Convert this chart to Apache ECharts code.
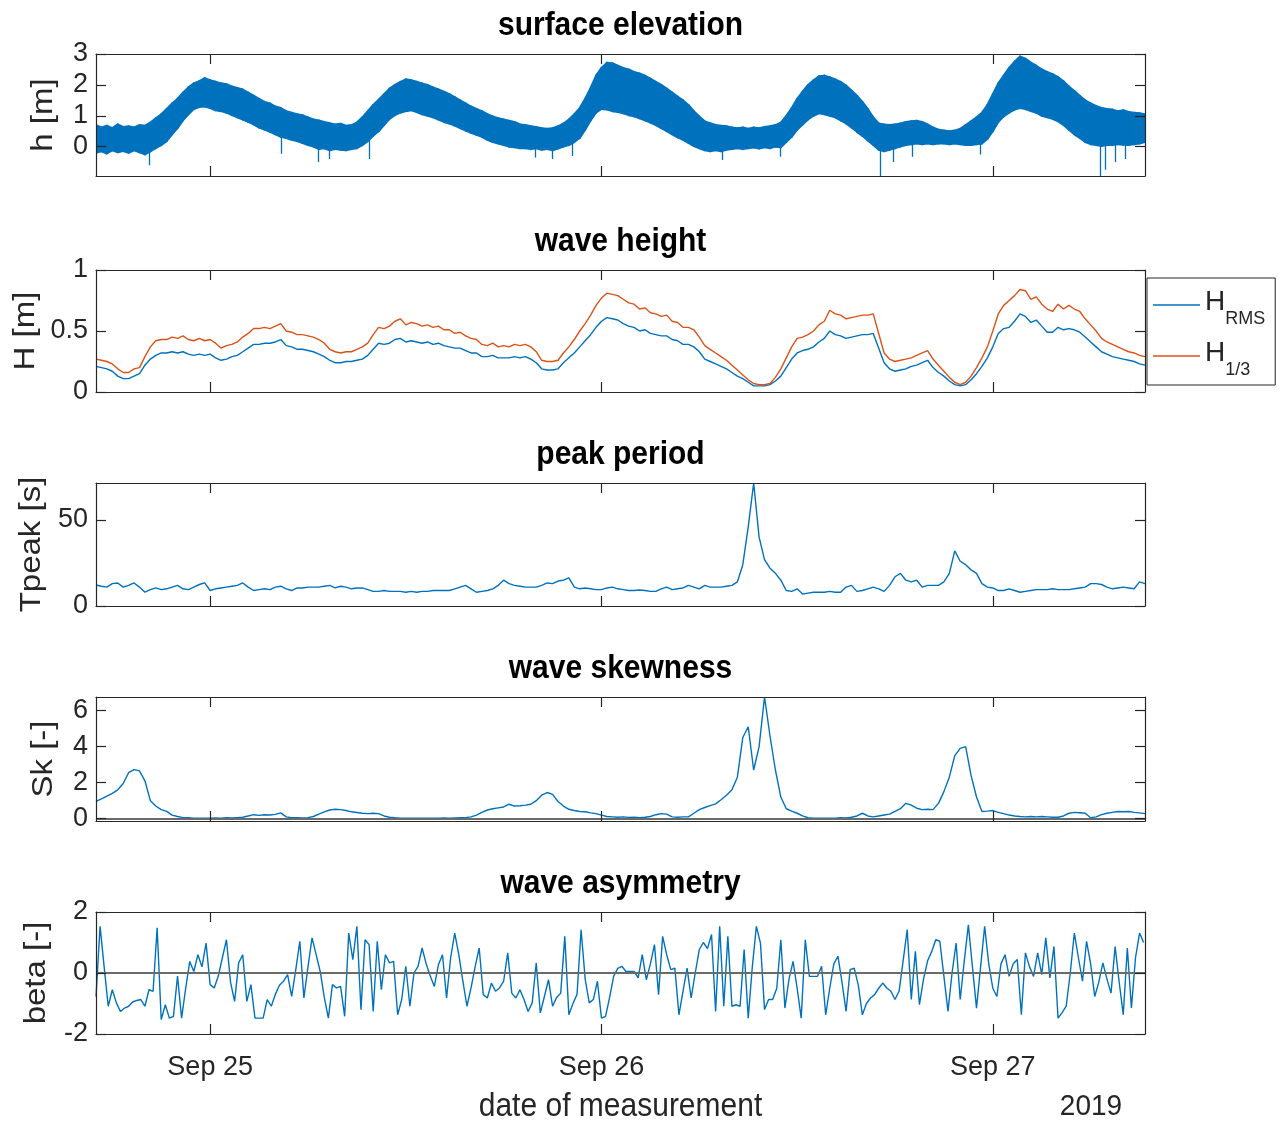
<!DOCTYPE html>
<html>
<head>
<meta charset="utf-8">
<title>Wave measurements, Sep 2019</title>
<script src="https://cdn.jsdelivr.net/npm/echarts@6/dist/echarts.min.js"></script>
<style>
  html, body { margin: 0; padding: 0; background: #ffffff; }
  #chart { width: 1284px; height: 1122px; }
</style>
</head>
<body>
<div id="chart"></div>
<script>
// ---------------------------------------------------------------------------
// Measurement record (local time). 20-minute series unless noted.
// ---------------------------------------------------------------------------
const seriesStart = '2019-09-24 17:00';
const axisEnd = '2019-09-27 09:20';
const stepMinutes = 20;
const betaStepMinutes = 15;

// surface elevation: upper / lower envelope of the raw signal per 20-min block [m]
const elevTop = [
  0.70,0.62,0.68,0.60,0.72,0.64,0.66,0.62,0.70,0.68,
  0.78,0.92,1.05,1.22,1.40,1.55,1.75,1.92,2.05,2.12,
  2.22,2.15,2.10,2.05,2.02,1.95,1.90,1.85,1.75,1.65,
  1.55,1.45,1.40,1.30,1.25,1.15,1.10,1.05,1.02,0.95,
  0.88,0.85,0.80,0.76,0.72,0.74,0.68,0.70,0.78,0.95,
  1.15,1.35,1.52,1.70,1.88,2.00,2.10,2.18,2.15,2.10,
  2.05,2.00,1.92,1.85,1.78,1.70,1.60,1.50,1.40,1.30,
  1.22,1.15,1.05,0.98,0.92,0.88,0.84,0.80,0.72,0.70,
  0.66,0.64,0.60,0.58,0.60,0.66,0.75,0.88,1.05,1.25,
  1.55,1.90,2.30,2.55,2.72,2.70,2.62,2.55,2.50,2.42,
  2.37,2.30,2.20,2.10,2.00,1.88,1.75,1.62,1.50,1.35,
  1.15,0.98,0.82,0.76,0.70,0.68,0.66,0.62,0.60,0.62,
  0.58,0.62,0.60,0.64,0.66,0.70,0.78,1.00,1.25,1.55,
  1.78,2.00,2.15,2.28,2.30,2.25,2.18,2.10,1.98,1.82,
  1.65,1.45,1.22,0.95,0.75,0.72,0.70,0.72,0.75,0.80,
  0.82,0.84,0.80,0.72,0.62,0.55,0.52,0.50,0.52,0.58,
  0.70,0.82,0.95,1.10,1.35,1.70,2.05,2.30,2.55,2.75,
  2.92,2.85,2.72,2.62,2.50,2.42,2.35,2.25,2.12,1.95,
  1.80,1.65,1.50,1.40,1.32,1.25,1.22,1.20,1.15,1.18,
  1.12,1.10,1.08,1.05
];
const elevBottom = [
  -0.20,-0.15,-0.22,-0.12,-0.18,-0.14,-0.20,-0.12,-0.18,-0.25,
  -0.15,-0.05,0.05,0.18,0.40,0.60,0.85,1.05,1.22,1.28,
  1.30,1.25,1.18,1.15,1.10,1.02,0.95,0.88,0.80,0.72,
  0.62,0.55,0.48,0.40,0.32,0.28,0.22,0.18,0.12,0.05,
  0.00,-0.08,-0.05,-0.12,-0.08,-0.10,-0.12,-0.08,-0.05,0.05,
  0.18,0.35,0.50,0.70,0.90,1.02,1.10,1.15,1.18,1.12,
  1.05,1.00,0.95,0.88,0.80,0.75,0.68,0.60,0.52,0.45,
  0.38,0.32,0.22,0.15,0.10,0.05,0.00,-0.02,-0.05,-0.05,
  -0.08,-0.05,-0.10,-0.08,-0.12,-0.06,0.00,0.05,0.15,0.28,
  0.55,0.85,1.10,1.22,1.20,1.15,1.12,1.08,1.02,0.98,
  0.92,0.85,0.78,0.70,0.60,0.50,0.40,0.30,0.22,0.12,
  0.02,-0.05,-0.12,-0.15,-0.12,-0.15,-0.10,-0.08,-0.05,-0.08,
  -0.05,-0.03,-0.06,-0.02,-0.05,0.00,-0.02,0.15,0.32,0.55,
  0.72,0.88,1.00,1.08,1.05,1.00,0.95,0.85,0.75,0.62,
  0.48,0.35,0.20,0.05,-0.10,-0.15,-0.10,-0.05,0.00,0.05,
  0.08,0.10,0.08,0.10,0.08,0.10,0.10,0.08,0.10,0.08,
  0.05,0.05,0.08,0.10,0.25,0.50,0.80,0.98,1.10,1.20,
  1.25,1.22,1.15,1.10,1.00,0.95,0.90,0.82,0.70,0.55,
  0.40,0.28,0.15,0.08,0.05,0.02,0.05,0.05,0.08,0.06,
  0.05,0.08,0.10,0.15
];
// isolated deep troughs in the raw signal
const elevSpikeTimes = [
  '2019-09-24 20:17','2019-09-25 04:23','2019-09-25 06:36','2019-09-25 07:20',
  '2019-09-25 09:47','2019-09-25 19:55','2019-09-25 20:58','2019-09-25 22:11',
  '2019-09-26 07:23','2019-09-26 10:57','2019-09-26 17:05','2019-09-26 17:53',
  '2019-09-26 19:04','2019-09-26 23:14','2019-09-27 06:36','2019-09-27 06:54',
  '2019-09-27 07:30','2019-09-27 08:08'
];
const elevSpikeMins = [
  -0.60,-0.23,-0.50,-0.40,-0.40,-0.35,-0.40,-0.30,
  -0.43,-0.33,-0.95,-0.50,-0.33,-0.25,-0.95,-0.75,-0.50,-0.40
];

// wave height [m]
const hRms = [
  0.21,0.20,0.19,0.17,0.13,0.11,0.11,0.13,0.15,0.22,
  0.27,0.30,0.32,0.32,0.33,0.32,0.33,0.31,0.30,0.31,
  0.30,0.31,0.28,0.26,0.27,0.29,0.30,0.33,0.36,0.39,
  0.39,0.40,0.40,0.41,0.43,0.38,0.37,0.35,0.35,0.34,
  0.33,0.31,0.29,0.26,0.24,0.24,0.25,0.25,0.26,0.27,
  0.30,0.35,0.40,0.39,0.40,0.43,0.44,0.41,0.42,0.41,
  0.40,0.41,0.39,0.40,0.38,0.37,0.36,0.36,0.34,0.32,
  0.32,0.29,0.29,0.30,0.28,0.28,0.28,0.29,0.28,0.29,
  0.27,0.24,0.19,0.18,0.18,0.19,0.24,0.28,0.32,0.37,
  0.42,0.47,0.53,0.58,0.61,0.60,0.59,0.56,0.54,0.53,
  0.50,0.51,0.48,0.47,0.46,0.46,0.43,0.42,0.39,0.39,
  0.37,0.33,0.27,0.25,0.23,0.21,0.19,0.16,0.13,0.11,
  0.08,0.05,0.05,0.05,0.06,0.09,0.13,0.20,0.27,0.32,
  0.34,0.35,0.37,0.41,0.44,0.50,0.47,0.46,0.44,0.45,
  0.46,0.47,0.47,0.48,0.36,0.24,0.19,0.17,0.18,0.19,
  0.21,0.22,0.24,0.26,0.20,0.16,0.13,0.09,0.06,0.05,
  0.06,0.10,0.15,0.21,0.28,0.37,0.48,0.52,0.53,0.58,
  0.64,0.62,0.57,0.59,0.54,0.49,0.49,0.53,0.51,0.52,
  0.51,0.49,0.45,0.41,0.37,0.33,0.31,0.29,0.28,0.27,
  0.26,0.25,0.23,0.22
];
const hThird = [
  0.27,0.26,0.25,0.23,0.19,0.16,0.16,0.19,0.20,0.29,
  0.37,0.42,0.43,0.43,0.45,0.44,0.46,0.43,0.42,0.44,
  0.42,0.43,0.40,0.36,0.38,0.39,0.41,0.45,0.48,0.52,
  0.52,0.53,0.52,0.54,0.56,0.50,0.49,0.47,0.47,0.46,
  0.45,0.43,0.40,0.35,0.33,0.32,0.33,0.33,0.35,0.37,
  0.40,0.47,0.53,0.52,0.54,0.58,0.60,0.55,0.57,0.56,
  0.54,0.55,0.53,0.54,0.51,0.51,0.48,0.49,0.46,0.44,
  0.43,0.39,0.38,0.40,0.37,0.38,0.37,0.39,0.38,0.39,
  0.37,0.33,0.26,0.25,0.25,0.26,0.32,0.37,0.43,0.50,
  0.56,0.63,0.71,0.77,0.81,0.80,0.79,0.76,0.73,0.72,
  0.68,0.69,0.65,0.64,0.62,0.63,0.58,0.57,0.53,0.53,
  0.51,0.45,0.38,0.35,0.32,0.29,0.26,0.22,0.18,0.14,
  0.10,0.07,0.06,0.06,0.07,0.12,0.19,0.28,0.37,0.44,
  0.45,0.47,0.50,0.55,0.58,0.67,0.64,0.63,0.60,0.61,
  0.62,0.63,0.63,0.64,0.48,0.32,0.27,0.25,0.26,0.27,
  0.28,0.30,0.32,0.34,0.27,0.22,0.17,0.12,0.08,0.06,
  0.08,0.13,0.20,0.28,0.37,0.50,0.64,0.71,0.75,0.79,
  0.84,0.83,0.76,0.78,0.72,0.68,0.66,0.72,0.68,0.71,
  0.68,0.66,0.60,0.55,0.50,0.44,0.41,0.39,0.37,0.35,
  0.33,0.32,0.30,0.29
];

// peak period [s]
const tPeak = [
  12.2,11.5,11,13,13.4,11,12,13.4,11,8,
  9.5,10.5,9.5,10,11,12,10,9.5,11,12.5,
  13.4,9,10,10.5,11,11.5,12,13.4,11,9,
  9.5,10,9.5,11,11.5,10,9,10.5,10.5,11,
  11,11,11.5,12,10.5,11.5,11,10,10.5,10.5,
  9.5,8.5,8.5,9,8.5,8.5,8.5,8,8.5,8,
  8.5,8.5,9,9,9,9,10,11,12,10,
  8,8.5,9,10,12,15,13,12,11.5,11,
  11,11,12,13.4,13,14.5,15,16.3,11,10,
  10.5,10,9.5,9.5,10.5,11,10,9.5,9,9,
  9.3,9,8.5,8.5,10,11,9.5,10,10.5,12,
  11,10,12,11,11,11,11.5,12,14,24,
  46,71.5,40,27,22,19,15,9,8.5,10,
  7,7.5,8,8,8,8.5,8,8,11,12,
  8.5,9,10,11,10,8.5,12,17,19,15,
  14,15,11,12,12,12,14,19,32,26,
  24,21,19,13,11,10.5,9,9,10,9,
  8,8.5,9,9.5,9.5,9.5,10,9.5,9.5,9.5,
  10,10.5,11,13,13,12.5,11,10,10.5,11,
  10.5,10,14,13
];

// wave skewness [-]
const skewness = [
  0.96,1.1,1.25,1.4,1.6,1.95,2.55,2.72,2.65,2.1,
  1.0,0.7,0.5,0.4,0.2,0.12,0.06,0.05,0.03,0.02,
  0.03,0.02,0.04,0.03,0.05,0.04,0.06,0.08,0.15,0.22,
  0.18,0.22,0.2,0.24,0.32,0.1,0.05,0.06,0.04,0.06,
  0.12,0.25,0.38,0.48,0.52,0.5,0.45,0.38,0.34,0.3,
  0.28,0.3,0.28,0.15,0.08,0.05,0.03,0.02,0.03,0.02,
  0.02,0.03,0.02,0.03,0.04,0.03,0.04,0.05,0.06,0.1,
  0.2,0.35,0.48,0.55,0.6,0.65,0.8,0.7,0.72,0.75,
  0.8,1.0,1.3,1.45,1.35,0.95,0.7,0.52,0.45,0.4,
  0.38,0.32,0.28,0.2,0.12,0.1,0.08,0.1,0.07,0.08,
  0.06,0.08,0.12,0.22,0.28,0.25,0.1,0.08,0.1,0.1,
  0.3,0.5,0.62,0.72,0.82,1.05,1.3,1.6,2.3,4.5,
  5.1,2.7,4.0,6.75,4.6,2.7,1.2,0.55,0.42,0.3,
  0.15,0.05,0.03,0.02,0.03,0.02,0.03,0.05,0.04,0.08,
  0.15,0.3,0.15,0.1,0.15,0.2,0.25,0.4,0.55,0.85,
  0.75,0.58,0.5,0.52,0.5,0.85,1.5,2.3,3.5,3.9,
  4.0,2.4,1.2,0.4,0.42,0.45,0.35,0.28,0.2,0.15,
  0.12,0.1,0.12,0.1,0.12,0.1,0.08,0.08,0.15,0.3,
  0.35,0.33,0.3,0.05,0.1,0.22,0.3,0.35,0.4,0.38,
  0.4,0.35,0.32,0.28
];

// wave asymmetry [-], 15-minute blocks
const beta = [
  -0.77,1.53,0.2,-1.09,-0.55,-0.98,-1.26,-1.15,-1.09,-0.95,
  -0.9,-0.87,-1.09,-0.55,-0.6,1.48,-1.53,-1.04,-1.48,-1.42,
  -0.1,-1.48,-0.5,0.38,0.05,0.6,0.2,0.98,-0.38,-0.49,
  -0.1,0.5,1.09,-0.3,-0.93,0.33,0.6,-0.93,-0.38,-1.48,
  -1.48,-1.48,-0.87,-1.09,-0.7,-0.4,-0.27,-0.05,-0.77,0.1,
  1.04,-0.82,0.2,1.15,0.6,0.05,-0.8,-1.48,-0.38,-0.49,
  -0.44,-1.42,1.31,0.44,1.53,-1.2,1.09,0.93,-1.26,1.04,
  -0.55,0.6,0.33,0.38,-1.37,-0.87,0.22,-1.09,0.0,0.22,
  0.82,0.3,-0.1,-0.44,0.27,0.6,-0.82,0.5,1.31,0.6,
  -0.27,-1.09,-0.49,0.2,0.82,-0.71,-0.82,-0.33,-0.6,-0.49,
  -0.27,0.66,-0.66,-0.82,-0.55,-0.87,-1.26,-0.98,0.33,-1.31,
  -0.77,-0.22,-1.09,-0.8,-0.66,1.2,-1.37,-1.0,-0.7,1.42,
  -0.2,-0.98,-0.87,-0.27,-1.48,-1.42,-0.8,-0.1,0.15,0.22,
  0.05,0.05,0.05,-0.16,0.6,-0.22,0.3,0.93,-0.71,1.2,
  0.6,0.11,0.16,-1.37,-0.6,0.16,-0.82,0.0,0.77,1.0,
  0.8,1.26,-1.26,1.53,-1.09,1.2,-1.09,-1.04,-1.09,0.77,
  -1.48,0.2,1.53,0.98,-1.2,-0.87,-0.87,-0.5,1.09,-1.15,
  -0.2,0.38,-0.5,-1.48,1.09,-0.11,-0.11,-0.11,0.22,-1.37,
  -0.5,0.3,0.55,-0.3,-1.26,0.11,0.16,-0.4,-1.37,-1.0,
  -0.82,-0.71,-0.5,-0.33,-0.49,-0.6,-0.87,-0.6,0.4,1.42,
  -0.87,0.71,-1.04,-0.2,0.4,0.7,1.09,1.04,-0.1,-1.26,
  0.0,0.98,-0.87,0.4,1.58,0.2,-1.15,0.2,1.53,0.3,
  -0.5,-0.77,0.3,0.6,-0.11,0.3,0.44,-1.37,0.66,0.2,
  -0.11,0.66,-0.05,1.15,-0.16,0.87,-1.48,-1.3,-1.09,0.0,
  1.31,0.5,-0.27,1.04,0.3,-0.77,-0.3,0.33,-0.2,-0.66,
  0.87,-0.3,-1.37,0.82,-1.15,0.5,1.31,1.0
];

// tick labels
const dayTicks = ['2019-09-25 00:00', '2019-09-26 00:00', '2019-09-27 00:00'];
const dayTickLabels = ['Sep 25', 'Sep 26', 'Sep 27'];
const elevTicks = [0, 1, 2, 3];
const heightTicks = [0, 0.5, 1];
const periodTicks = [0, 50];
const skewTicks = [0, 2, 4, 6];
const betaTicks = [-2, 0, 2];

const panelTitles = ['surface elevation', 'wave height', 'peak period', 'wave skewness', 'wave asymmetry'];
const panelYNames = ['h [m]', 'H [m]', 'Tpeak [s]', 'Sk [-]', 'beta [-]'];
const legendNames = ['H_RMS', 'H_1/3'];
const xAxisTitle = 'date of measurement';
const yearText = '2019';

// ---------------------------------------------------------------------------
// Layout & styling
// ---------------------------------------------------------------------------
const FONT = "'Liberation Sans', Arial, Helvetica, sans-serif";
const INK = '#262626';
const BLUE = '#0072BD';
const ORANGE = '#D95319';
const ZERO_LINE = '#6a6a6a';
const TICK_FONT = 27;
const LABEL_FONT = 30;

const PLOT_LEFT = 96, PLOT_RIGHT_GAP = 139;
const panels = [
  { top: 54,  height: 122, min: -0.95, max: 3,    ticks: elevTicks,   nameX: 44 },
  { top: 270, height: 122, min: 0,     max: 1,    ticks: heightTicks, nameX: 26 },
  { top: 483, height: 123, min: 0,     max: 71.5, ticks: periodTicks, nameX: 32 },
  { top: 697, height: 124, min: -0.13, max: 6.75, ticks: skewTicks,   nameX: 44 },
  { top: 912, height: 122, min: -2,    max: 2,    ticks: betaTicks,   nameX: 37 }
];

function parseStamp(s) {
  const [d, t] = s.split(' ');
  const [Y, M, D] = d.split('-').map(Number);
  const [h, m] = t.split(':').map(Number);
  return new Date(Y, M - 1, D, h, m).getTime();
}
const t0 = parseStamp(seriesStart);
const t1 = parseStamp(axisEnd);
const stampAt = (i, step) => t0 + i * step * 60000;
const toPairs = (arr, step) => arr.map((v, i) => [stampAt(i, step), v]);
const dayStamps = dayTicks.map(parseStamp);

const axisLineStyle = { color: INK, width: 1.2 };

// time runs on a numeric axis (milliseconds) so the tick positions can be given explicitly
function makeXAxes(gi, withLabels) {
  const base = {
    type: 'value', gridIndex: gi, min: t0, max: t1, scale: true, z: 5,
    axisLine: { show: true, onZero: false, lineStyle: axisLineStyle },
    axisTick: { show: true, inside: true, length: 10, customValues: dayStamps, lineStyle: axisLineStyle },
    splitLine: { show: false },
    minorTick: { show: false },
    axisPointer: { show: false }
  };
  const bottom = Object.assign({}, base, {
    position: 'bottom',
    axisLabel: withLabels ? {
      show: true, customValues: dayStamps, margin: 20,
      fontFamily: FONT, fontSize: TICK_FONT, color: INK,
      formatter: (v) => {
        const k = dayStamps.findIndex(s => Math.abs(s - v) < 1000);
        return k >= 0 ? dayTickLabels[k] : '';
      }
    } : { show: false }
  });
  const top = Object.assign({}, base, { position: 'top', axisLabel: { show: false } });
  return [bottom, top];
}

function makeYAxes(gi, p) {
  const base = {
    type: 'value', gridIndex: gi, min: p.min, max: p.max, scale: true, z: 5,
    axisLine: { show: true, onZero: false, lineStyle: axisLineStyle },
    axisTick: { show: true, inside: true, length: 10, customValues: p.ticks, lineStyle: axisLineStyle },
    splitLine: { show: false },
    minorTick: { show: false }
  };
  const left = Object.assign({}, base, {
    position: 'left',
    axisLabel: { show: true, customValues: p.ticks, margin: 8, padding: [4, 0, 0, 0],
                 fontFamily: FONT, fontSize: TICK_FONT, color: INK }
  });
  const right = Object.assign({}, base, { position: 'right', axisLabel: { show: false } });
  return [left, right];
}

const grid = [], xAxis = [], yAxis = [];
panels.forEach((p, gi) => {
  grid.push({ left: PLOT_LEFT, right: PLOT_RIGHT_GAP, top: p.top, height: p.height, containLabel: false });
  xAxis.push(...makeXAxes(gi, gi === panels.length - 1));
  yAxis.push(...makeYAxes(gi, p));
});
// primary axes of panel k sit at index 2k
const ax = (k) => ({ xAxisIndex: 2 * k, yAxisIndex: 2 * k });

const plainLine = (extra) => Object.assign({
  type: 'line', symbol: 'none', showSymbol: false, silent: true,
  emphasis: { disabled: true }, animation: false, clip: true
}, extra);

const zeroMark = {
  silent: true, symbol: 'none', label: { show: false }, animation: false,
  lineStyle: { color: ZERO_LINE, width: 2.2, type: 'solid' },
  data: [{ yAxis: 0 }]
};

// elevation band: one quad per block, from this block's envelope to the next one's
const bandBlocks = elevTop.slice(0, -1).map((v, i) => [
  stampAt(i, stepMinutes), elevBottom[i], elevTop[i],
  stampAt(i + 1, stepMinutes), elevBottom[i + 1], elevTop[i + 1]
]);
const spikeSegments = elevSpikeTimes.map((s, k) => {
  const t = parseStamp(s);
  const i = Math.min(elevBottom.length - 1, Math.max(0, Math.round((t - t0) / (stepMinutes * 60000))));
  return { coords: [[t, elevBottom[i] + 0.1], [t, elevSpikeMins[k]]] };
});

const series = [
  Object.assign({
    type: 'custom', name: 'surface elevation', silent: true, animation: false, clip: true,
    data: bandBlocks,
    encode: { x: [0, 3], y: [1, 2, 4, 5] },
    renderItem: (params, api) => {
      const a = api.coord([api.value(0), api.value(2)]);
      const b = api.coord([api.value(3), api.value(5)]);
      const c = api.coord([api.value(3), api.value(4)]);
      const d = api.coord([api.value(0), api.value(1)]);
      return {
        type: 'polygon',
        shape: { points: [a, b, c, d] },
        style: { fill: BLUE, stroke: BLUE, lineWidth: 2, lineJoin: 'round' }
      };
    }
  }, ax(0)),
  Object.assign({
    type: 'lines', coordinateSystem: 'cartesian2d', silent: true, animation: false,
    polyline: false, symbol: 'none',
    lineStyle: { color: BLUE, width: 1.3, opacity: 1 },
    data: spikeSegments
  }, ax(0)),
  plainLine(Object.assign({
    name: legendNames[0], data: toPairs(hRms, stepMinutes),
    lineStyle: { color: BLUE, width: 1.4 }, itemStyle: { color: BLUE }
  }, ax(1))),
  plainLine(Object.assign({
    name: legendNames[1], data: toPairs(hThird, stepMinutes),
    lineStyle: { color: ORANGE, width: 1.4 }, itemStyle: { color: ORANGE }
  }, ax(1))),
  plainLine(Object.assign({
    name: 'Tpeak', data: toPairs(tPeak, stepMinutes),
    lineStyle: { color: BLUE, width: 1.4 }
  }, ax(2))),
  plainLine(Object.assign({
    name: 'Sk', data: toPairs(skewness, stepMinutes),
    lineStyle: { color: BLUE, width: 1.4 },
    markLine: zeroMark
  }, ax(3))),
  plainLine(Object.assign({
    name: 'beta', data: toPairs(beta, betaStepMinutes),
    lineStyle: { color: BLUE, width: 1.4 },
    markLine: zeroMark
  }, ax(4)))
];

// titles, axis names and the shared x label
const graphic = [];
const plotCenterX = PLOT_LEFT + (1284 - PLOT_LEFT - PLOT_RIGHT_GAP) / 2;
panels.forEach((p, k) => {
  graphic.push({
    type: 'text', x: plotCenterX, y: p.top - 28, silent: true, scaleY: 1.08,
    style: { text: panelTitles[k], fontFamily: FONT, fontSize: LABEL_FONT, fontWeight: 'bold',
             fill: '#000000', align: 'center', verticalAlign: 'middle' }
  });
  graphic.push({
    type: 'text', x: p.nameX, y: p.top + p.height / 2, rotation: Math.PI / 2, silent: true, scaleX: 1.1,
    style: { text: panelYNames[k], fontFamily: FONT, fontSize: LABEL_FONT,
             fill: INK, align: 'center', verticalAlign: 'middle' }
  });
});
graphic.push({
  type: 'text', x: plotCenterX, y: 1107, silent: true, scaleY: 1.08,
  style: { text: xAxisTitle, fontFamily: FONT, fontSize: LABEL_FONT, fill: INK, align: 'center', verticalAlign: 'middle' }
});
graphic.push({
  type: 'text', x: 1091, y: 1107, silent: true, scaleY: 1.08,
  style: { text: yearText, fontFamily: FONT, fontSize: 28, fill: INK, align: 'center', verticalAlign: 'middle' }
});

const option = {
  backgroundColor: '#ffffff',
  animation: false,
  grid, xAxis, yAxis, series, graphic,
  legend: {
    data: legendNames,
    orient: 'vertical',
    left: 1147, top: 278,
    padding: [1.5, 10, 3.5, 6],
    itemGap: 0,
    icon: 'rect',
    itemWidth: 47, itemHeight: 1.5,
    selectedMode: false,
    backgroundColor: '#ffffff',
    borderColor: INK, borderWidth: 1,
    formatter: (name) => {
      const [main, sub] = name.split('_');
      return '{h|' + main + '}{s|' + sub + '}';
    },
    textStyle: {
      fontFamily: FONT, color: INK,
      rich: {
        h: { fontFamily: FONT, fontSize: 28, color: INK, lineHeight: 24, padding: [8.5, 0, 14.5, 0] },
        s: { fontFamily: FONT, fontSize: 18, color: INK, lineHeight: 18, padding: [28.5, 0, 0.5, 0] }
      }
    }
  }
};

const chart = echarts.init(document.getElementById('chart'), null, { renderer: 'canvas', width: 1284, height: 1122 });
chart.setOption(option);
</script>
</body>
</html>
